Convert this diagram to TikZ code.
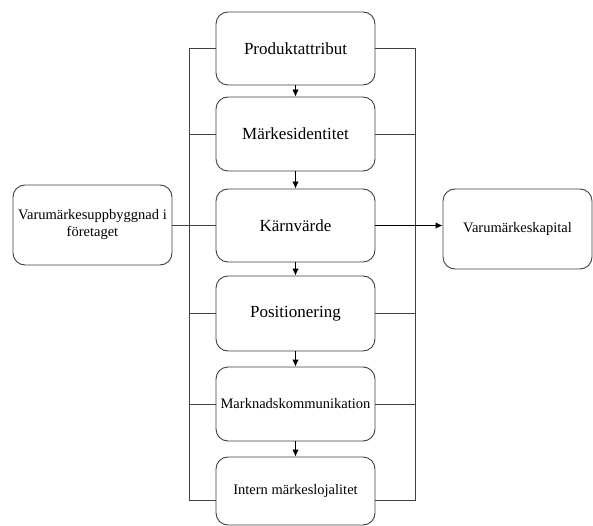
\documentclass[tikz,border=0pt]{standalone}
\usepackage{fontspec}
\setmainfont{Liberation Serif}
\usetikzlibrary{arrows.meta}
\begin{document}
\begin{tikzpicture}[x=1pt,y=-1pt,
  box/.style={draw=black!75, line width=0.9pt, rounded corners=12pt, fill=white, align=center, inner sep=0pt},
  midbox/.style={box, minimum width=159pt},
  big/.style={font=\fontsize{17}{19}\selectfont},
  small/.style={font=\fontsize{14.5}{17}\selectfont},
  conn/.style={draw=black!75, line width=0.9pt},
  arr/.style={conn, draw=black, -{Latex[length=7pt,width=6.5pt]}}]
\useasboundingbox (0,0) rectangle (593,526);
\node[midbox, big, minimum height=73pt] (b1) at (295.5,48.5) {Produktattribut};
\node[midbox, big, minimum height=74pt] (b2) at (295.5,134) {Märkesidentitet};
\node[midbox, big, minimum height=73pt] (b3) at (295.5,225.5) {Kärnvärde};
\node[midbox, big, minimum height=75pt] (b4) at (295.5,313.5) {Positionering};
\node[midbox, small, minimum height=74pt] (b5) at (295.5,404) {Marknadskommunikation};
\node[midbox, small, minimum height=68pt] (b6) at (295.5,491) {Intern märkeslojalitet};
\node[box, small, minimum width=159pt, minimum height=80pt] (L) at (92.5,225) {Varumärkesuppbyggnad i\\företaget};
\node[box, small, minimum width=149pt, minimum height=80pt] (R) at (517.5,229) {Varumärkeskapital};
% vertical arrows
\draw[arr] (b1.south) -- (b2.north);
\draw[arr] (b2.south) -- (b3.north);
\draw[arr] (b3.south) -- (b4.north);
\draw[arr] (b4.south) -- (b5.north);
\draw[arr] (b5.south) -- (b6.north);
% buses
\coordinate (lt) at (189,48.5);
\coordinate (lb) at (189,500);
\coordinate (rt) at (415,48.5);
\coordinate (rb) at (415,500);
\draw[conn] (b1.west) -- (lt) -- (lb) -- (b6.west |- lb);
\draw[conn] (b1.east) -- (rt) -- (rb) -- (b6.east |- rb);
\draw[conn] (b2.west) -- (lt |- b2.west);
\draw[conn] (b2.east) -- (rt |- b2.east);
\draw[conn] (b4.west) -- (lt |- b4.west);
\draw[conn] (b4.east) -- (rt |- b4.east);
\draw[conn] (b5.west) -- (lt |- b5.west);
\draw[conn] (b5.east) -- (rt |- b5.east);
\draw[conn] (L.east |- b3.west) -- (b3.west);
\draw[arr] (b3.east) -- (R.west |- b3.east);
\end{tikzpicture}
\end{document}
